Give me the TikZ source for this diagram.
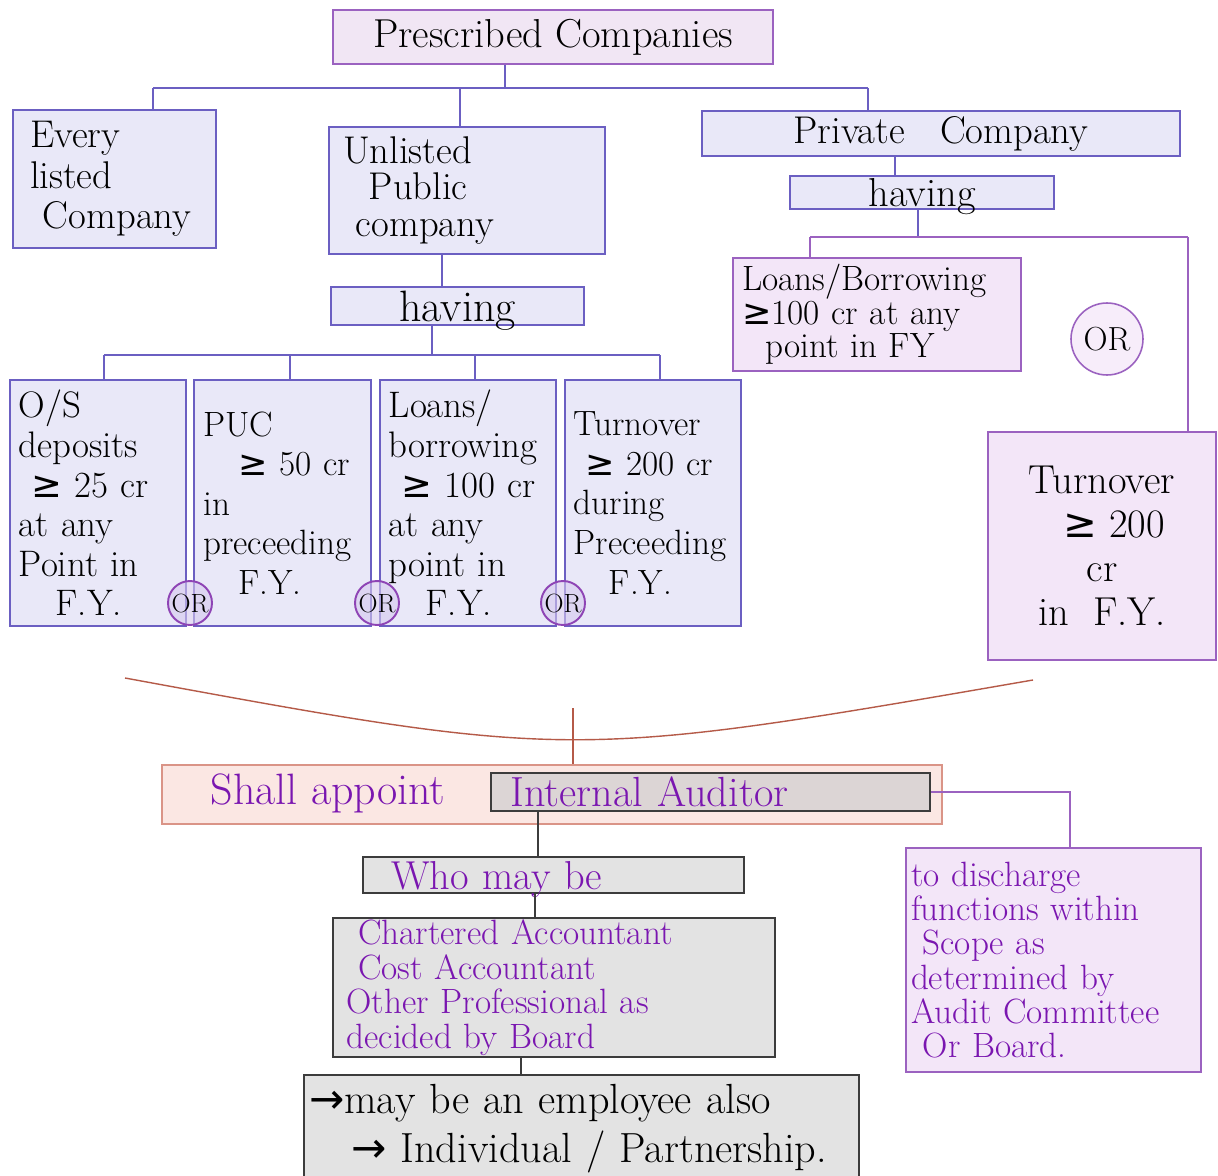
\documentclass[tikz,border=0pt]{standalone}
\usepackage{fontspec}
\newfontfamily\dejavu{DejaVu Sans}
\usetikzlibrary{positioning,calc}

\definecolor{boxblue}{HTML}{E9E8F8}
\definecolor{lineblue}{HTML}{6B5FC2}
\definecolor{boxlilac}{HTML}{F3E6F8}
\definecolor{linelilac}{HTML}{9B62C0}
\definecolor{ormark}{HTML}{8E44B5}
\definecolor{orfill}{HTML}{D6C9EE}
\definecolor{toppink}{HTML}{F1E6F4}
\definecolor{arcred}{HTML}{B55A48}
\definecolor{boxpink}{HTML}{FBE7E3}
\definecolor{linepink}{HTML}{DA9487}
\definecolor{boxgrey}{HTML}{E3E3E3}
\definecolor{boxtaupe}{HTML}{DCD5D5}
\definecolor{linegrey}{HTML}{3C3C3C}
\definecolor{inkpurple}{HTML}{7A16B0}

\newcommand{\atleast}{{\dejavu ≥}}
\newcommand{\arr}{{\dejavu →}}

\tikzstyle{every node}+=[font=\fontsize{19}{22}\selectfont,inner sep=3pt]
\tikzstyle{top box}=[draw=linelilac,fill=toppink,line width=0.9pt,font=\fontsize{23}{26}\selectfont]
\tikzstyle{blue box}=[draw=lineblue,fill=boxblue,line width=0.9pt,align=left]
\tikzstyle{tall box}=[blue box,inner xsep=5pt,text width=3.17cm,font=\fontsize{21}{22.5}\selectfont]
\tikzstyle{word box}=[blue box,inner ysep=0pt,text depth=0pt]
\tikzstyle{lilac box}=[draw=linelilac,fill=boxlilac,line width=0.9pt,align=left]
\tikzstyle{pink box}=[draw=linepink,fill=boxpink,line width=0.9pt]
\tikzstyle{taupe box}=[draw=linegrey,fill=boxtaupe,line width=0.9pt,text=inkpurple,align=left]
\tikzstyle{grey box}=[draw=linegrey,fill=boxgrey,line width=0.9pt,align=left]
\tikzstyle{or mark}=[circle,draw=ormark,line width=1.1pt,fill=orfill,fill opacity=0.6,text opacity=1,inner sep=0pt]
\tikzstyle{blue link}=[draw=lineblue,line width=0.8pt]
\tikzstyle{lilac link}=[draw=linelilac,line width=0.8pt]
\tikzstyle{arc link}=[draw=arcred,line width=0.8pt]
\tikzstyle{grey link}=[draw=linegrey,line width=0.7pt]

% box from its two corners, in pixel units
\newcommand{\pbox}[7][]{
	\node[#1,minimum width={(#5-#3)*0.02cm},minimum height={(#6-#4)*0.02cm}]
		(#2) at ({(#3+#5)/2},{(#4+#6)/2}) {#7};
}
% straight drops from a bus point down to a box
\newcommand{\drops}[2][\empty]{
	\foreach \a/\b in {#2}{
		\draw[#1] (\a) -- (\a |- \b.north);
	}
}

\begin{document}
\begin{tikzpicture}[x=0.02cm,y=-0.02cm]
\useasboundingbox (0,0) rectangle (1218,1176);
\fill[white] (0,0) rectangle (1218,1176);

% top of the tree
\pbox[top box]{pc}{333}{10}{773}{64}{Prescribed Companies}
\pbox[blue box,text width=3.38cm,font=\fontsize{22}{23}\selectfont]{elc}{13}{110}{216}{248}{Every\\listed\\\ Company}
\pbox[blue box,text width=4.96cm,font=\fontsize{22}{21}\selectfont]{upc}{329}{127}{605}{254}{Unlisted\\\ \ Public\\\ company}
\pbox[blue box,font=\fontsize{22}{24}\selectfont]{prc}{702}{113}{1180}{154}{Private\ \ \ Company}

\coordinate (t0) at (505,88);
\coordinate (t1) at (153,88);
\coordinate (t2) at (460,88);
\coordinate (t3) at (868,88);
\draw[blue link] (t0 |- pc.south) -- (t0);
\draw[blue link] (t1) -- (t3);
\drops[blue link]{t1/elc,t2/upc,t3/prc}

% unlisted public company
\pbox[word box,font=\fontsize{25}{25}\selectfont]{hvl}{331}{287}{584}{325}{having}
\coordinate (u0) at (442,254);
\draw[blue link] (u0 |- upc.south) -- (u0 |- hvl.north);

\pbox[tall box]{d1}{10}{380}{186}{626}{O/S\\deposits\\\ \atleast\ 25 cr\\at any\\Point in\\\ \ \ F.Y.}
\pbox[tall box,font=\fontsize{20}{22.5}\selectfont]{d2}{194}{380}{371}{626}{PUC\\\quad\atleast\ 50 cr\\in\\preceeding\\\quad F.Y.}
\pbox[tall box]{d3}{380}{380}{556}{626}{Loans/\\borrowing\\\ \atleast\ 100 cr\\at any\\point in\\\quad F.Y.}
\pbox[tall box,font=\fontsize{20}{22.5}\selectfont]{d4}{565}{380}{741}{626}{Turnover\\\ \atleast\ 200~cr\\during\\Preceeding\\\quad F.Y.}

\coordinate (h0) at (432,355);
\coordinate (b1) at (104,355);
\coordinate (b2) at (290,355);
\coordinate (b3) at (475,355);
\coordinate (b4) at (660,355);
\draw[blue link] (h0 |- hvl.south) -- (h0);
\draw[blue link] (b1) -- (b4);
\drops[blue link]{b1/d1,b2/d2,b3/d3,b4/d4}

\node[or mark,minimum size=0.88cm,font=\fontsize{15}{15}\selectfont] (or1) at (190,603) {OR};
\node[or mark,minimum size=0.88cm,font=\fontsize{15}{15}\selectfont] (or2) at (377,603) {OR};
\node[or mark,minimum size=0.88cm,font=\fontsize{15}{15}\selectfont] (or3) at (563,603) {OR};

% private company
\pbox[word box,font=\fontsize{23}{23}\selectfont]{hvr}{790}{176}{1054}{209}{having}
\coordinate (p0) at (895,154);
\draw[blue link] (p0 |- prc.south) -- (p0 |- hvr.north);

\pbox[lilac box,text width=5.4cm,font=\fontsize{20}{19}\selectfont]{plb}{733}{258}{1021}{371}{Loans/Borrowing\\\atleast100 cr at any\\\ \ point in FY}
\pbox[lilac box,align=center,font=\fontsize{23}{25}\selectfont]{ptv}{988}{432}{1216}{660}{Turnover\\\ \ \atleast\ 200\\cr\\in\ \ F.Y.}
\node[or mark,minimum size=1.44cm,line width=0.9pt,draw=linelilac,fill opacity=1,fill=boxlilac!70] (or4) at (1107,339) {OR};

\coordinate (r0) at (918,237);
\coordinate (r1) at (810,237);
\coordinate (r2) at (1188,237);
\draw[blue link] (r0 |- hvr.south) -- (r0);
\draw[lilac link] (r1) -- (r2);
\drops[lilac link]{r1/plb,r2/ptv}

% all of them: internal auditor
\coordinate (al) at (125,678);
\coordinate (ar) at (1033,680);
\draw[arc link] (al) .. controls (571,760) .. (ar);

\pbox[pink box]{shall}{162}{765}{942}{824}{}
\node[text=inkpurple,font=\fontsize{25}{25}\selectfont] (sa) at (328,793) {Shall appoint};
\pbox[taupe box,text width=8cm,inner ysep=1pt,font=\fontsize{24}{24}\selectfont]{ia}{491}{773}{930}{811}{Internal Auditor}
\coordinate (s0) at (573,708);
\draw[arc link] (s0) -- (s0 |- shall.north);

\pbox[grey box,text=inkpurple,text width=6.5cm,inner ysep=0pt,text depth=0pt,font=\fontsize{23}{23}\selectfont]{who}{363}{857}{744}{893}{Who may be}
\pbox[grey box,text=inkpurple,text width=8.3cm,inner ysep=0.5pt,font=\fontsize{20}{19.6}\selectfont]{ca}{333}{918}{775}{1057}{\ Chartered Accountant\\\ Cost Accountant\\Other Professional as\\decided by Board}
\pbox[grey box,text width=10.9cm,font=\fontsize{24}{28}\selectfont]{emp}{305}{1075}{858}{1182}{\arr may be an employee also\\\quad\arr\ Individual / Partnership.}
\pbox[lilac box,text=inkpurple,text width=5.7cm,inner ysep=1pt,font=\fontsize{20}{19.5}\selectfont]{dis}{906}{848}{1201}{1072}{to discharge\\functions within\\\ Scope as\\determined by\\Audit Committee\\\ Or Board.}

\coordinate (i0) at (538,811);
\coordinate (w0) at (535,893);
\coordinate (c0) at (521,1057);
\coordinate (q0) at (1070,848);
\draw[grey link] (i0 |- ia.south) -- (i0 |- who.north);
\draw[grey link] (w0 |- who.south) -- (w0 |- ca.north);
\draw[grey link] (c0 |- ca.south) -- (c0 |- emp.north);
\draw[lilac link] (ia.east) -| (q0);
\end{tikzpicture}
\end{document}
